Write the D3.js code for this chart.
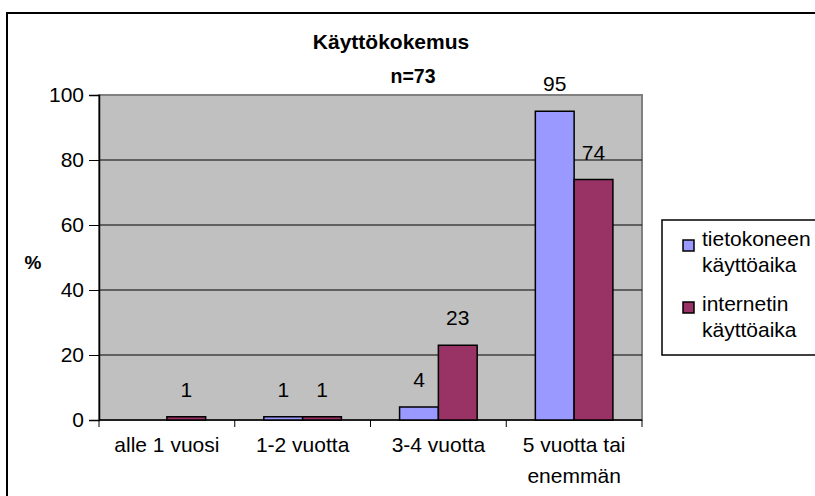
<!DOCTYPE html>
<html>
<head>
<meta charset="utf-8">
<script src="https://cdn.jsdelivr.net/npm/d3@7"></script>
<style>
  body { margin: 0; background: #fff; }
  text { font-family: Arial, "Liberation Sans", sans-serif; }
</style>
</head>
<body>
<svg id="chart" width="815" height="496"></svg>
<script>
var categories = [["alle 1 vuosi"], ["1-2 vuotta"], ["3-4 vuotta"], ["5 vuotta tai", "enemmän"]];
var seriesNames = [["tietokoneen", "käyttöaika"], ["internetin", "käyttöaika"]];
var tietokone = [0, 1, 4, 95];
var internet = [1, 1, 23, 74];
var yTicks = [0, 20, 40, 60, 80, 100];
var colors = ["#9999ff", "#993366"];

var svg = d3.select("#chart");

// outer chart frame (runs off the right and bottom edge)
svg.append("rect")
  .attr("x", 7).attr("y", 13)
  .attr("width", 830).attr("height", 500)
  .attr("fill", "#fff")
  .attr("stroke", "#000")
  .attr("stroke-width", 2);

var plotLeft = 99, plotRight = 642, plotTop = 95, plotBottom = 420;

var x = d3.scaleBand()
  .domain(d3.range(categories.length))
  .range([plotLeft, plotRight]);

var y = d3.scaleLinear()
  .domain([0, 100])
  .range([plotBottom, plotTop]);

var barW = x.bandwidth() / 3.5;
var xs = d3.scaleBand()
  .domain([0, 1])
  .range([x.bandwidth() / 2 - barW, x.bandwidth() / 2 + barW]);

// plot area
svg.append("rect")
  .attr("x", plotLeft).attr("y", plotTop)
  .attr("width", plotRight - plotLeft).attr("height", plotBottom - plotTop)
  .attr("fill", "#c0c0c0")
  .attr("stroke", "#808080")
  .attr("stroke-width", 2);

// gridlines
svg.append("g").selectAll("line")
  .data(yTicks.filter(function(d){ return d > 0 && d < 100; }))
  .enter()
  .append("line")
  .attr("x1", plotLeft).attr("x2", plotRight)
  .attr("y1", function(d){ return y(d); })
  .attr("y2", function(d){ return y(d); })
  .attr("stroke", "#000")
  .attr("stroke-width", 1);

// y axis
var yAxis = svg.append("g")
  .attr("transform", "translate(" + plotLeft + ",0)")
  .call(d3.axisLeft(y).tickValues(yTicks).tickSize(10).tickPadding(5));
yAxis.select(".domain").attr("stroke", "#000").attr("stroke-width", 1.5);
yAxis.selectAll(".tick line").attr("stroke", "#000");
yAxis.selectAll("text")
  .attr("font-size", 21)
  .attr("font-family", "Arial, 'Liberation Sans', sans-serif")
  .attr("fill", "#000");

svg.append("text")
  .attr("x", 33).attr("y", 269)
  .attr("text-anchor", "middle")
  .attr("font-size", 19)
  .attr("font-weight", "bold")
  .text("%");

// x axis line and ticks at category boundaries
svg.append("line")
  .attr("x1", plotLeft).attr("x2", plotRight)
  .attr("y1", plotBottom).attr("y2", plotBottom)
  .attr("stroke", "#000").attr("stroke-width", 1.5);

var bounds = d3.range(categories.length + 1).map(function(i){
  return i < categories.length ? x(i) : x(i - 1) + x.bandwidth();
});
svg.append("g").selectAll("line")
  .data(bounds)
  .enter()
  .append("line")
  .attr("x1", function(d){ return d; })
  .attr("x2", function(d){ return d; })
  .attr("y1", plotBottom).attr("y2", plotBottom + 7)
  .attr("stroke", "#000");

var xLabels = svg.append("g").selectAll("text")
  .data(categories)
  .enter()
  .append("text")
  .attr("x", function(d, i){ return x(i) + x.bandwidth() / 2; })
  .attr("y", 452)
  .attr("text-anchor", "middle")
  .attr("font-size", 21);
xLabels.selectAll("tspan")
  .data(function(d){ return d; })
  .enter()
  .append("tspan")
  .attr("x", function(){ return d3.select(this.parentNode).attr("x"); })
  .attr("dy", function(d, i){ return i === 0 ? 0 : 31; })
  .text(function(d){ return d; });

// bars and value labels
var series = [tietokone, internet];
series.forEach(function(vals, s){
  var rows = vals.map(function(v, i){ return {i: i, v: v}; })
    .filter(function(d){ return d.v > 0; });

  svg.append("g").selectAll("rect")
    .data(rows)
    .enter()
    .append("rect")
    .attr("x", function(d){ return x(d.i) + xs(s); })
    .attr("y", function(d){ return y(d.v); })
    .attr("width", barW)
    .attr("height", function(d){ return plotBottom - y(d.v); })
    .attr("fill", colors[s])
    .attr("stroke", "#000")
    .attr("stroke-width", 1.5);

  svg.append("g").selectAll("text")
    .data(rows)
    .enter()
    .append("text")
    .attr("x", function(d){ return x(d.i) + xs(s) + barW / 2; })
    .attr("y", function(d){ return y(d.v) - 20; })
    .attr("text-anchor", "middle")
    .attr("font-size", 21)
    .text(function(d){ return d.v; });
});

// titles
svg.append("text")
  .attr("x", 391).attr("y", 49)
  .attr("text-anchor", "middle")
  .attr("font-size", 21)
  .attr("font-weight", "bold")
  .text("Käyttökokemus");

svg.append("text")
  .attr("x", 413).attr("y", 83)
  .attr("text-anchor", "middle")
  .attr("font-size", 19.5)
  .attr("font-weight", "bold")
  .text("n=73");

// legend
svg.append("rect")
  .attr("x", 662).attr("y", 220)
  .attr("width", 170).attr("height", 135)
  .attr("fill", "#fff")
  .attr("stroke", "#000")
  .attr("stroke-width", 1.5);

var swatchY = [240, 302];
var legendBase = [246, 311];
seriesNames.forEach(function(lines, s){
  svg.append("rect")
    .attr("x", 683).attr("y", swatchY[s])
    .attr("width", 11).attr("height", 11)
    .attr("fill", colors[s])
    .attr("stroke", "#000")
    .attr("stroke-width", 1.5);
  svg.append("g").selectAll("text")
    .data(lines)
    .enter()
    .append("text")
    .attr("x", 702)
    .attr("y", function(d, i){ return legendBase[s] + i * 26; })
    .attr("font-size", 21)
    .text(function(d){ return d; });
});
</script>
</body>
</html>
